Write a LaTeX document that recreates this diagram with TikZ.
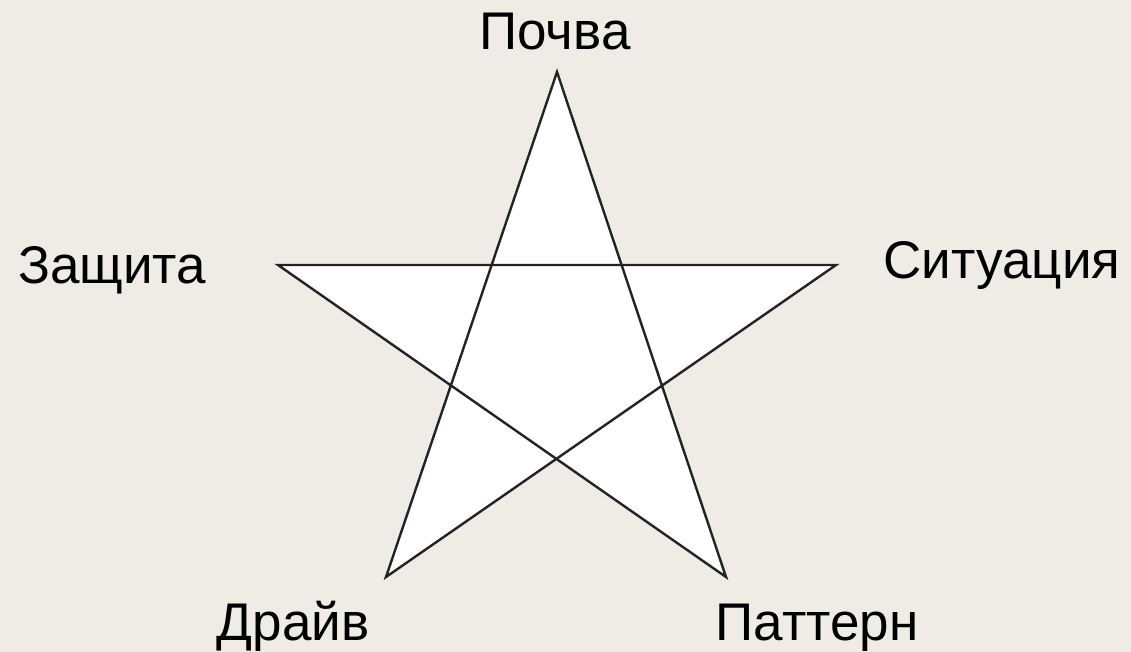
\documentclass[tikz,border=0pt]{standalone}
\usepackage{fontspec}
\setmainfont{Liberation Sans}
\usetikzlibrary{positioning}
\definecolor{bgbeige}{RGB}{239,236,229}
\definecolor{starline}{RGB}{35,35,35}

\begin{document}
\begin{tikzpicture}[
  x=1pt,y=-1pt,
  lbl/.style={font=\fontsize{53}{60}\selectfont,inner sep=0pt,anchor=base},
  star/.style={draw=starline,fill=white,line width=2.4pt,line join=miter}
]
\fill[bgbeige] (0,0) rectangle (1131,652);
\useasboundingbox (0,0) rectangle (1131,652);
\coordinate (top) at (557,72);
\coordinate (left) at (278,265);
\coordinate (right) at (836,265);
\coordinate (botl) at (386,577);
\coordinate (botr) at (726,577);

\draw[star] (top)--(botl)--(right)--(left)--(botr)--cycle;

\node[lbl] (soil) at (555,50) {Почва};
\node[lbl] (guard) at (112,283) {Защита};
\node[lbl] (situ) at (1002,278) {Ситуация};
\node[lbl] (drive) at (293,640) {Драйв};
\node[lbl] (patt) at (817,640) {Паттерн};
\end{tikzpicture}
\end{document}
